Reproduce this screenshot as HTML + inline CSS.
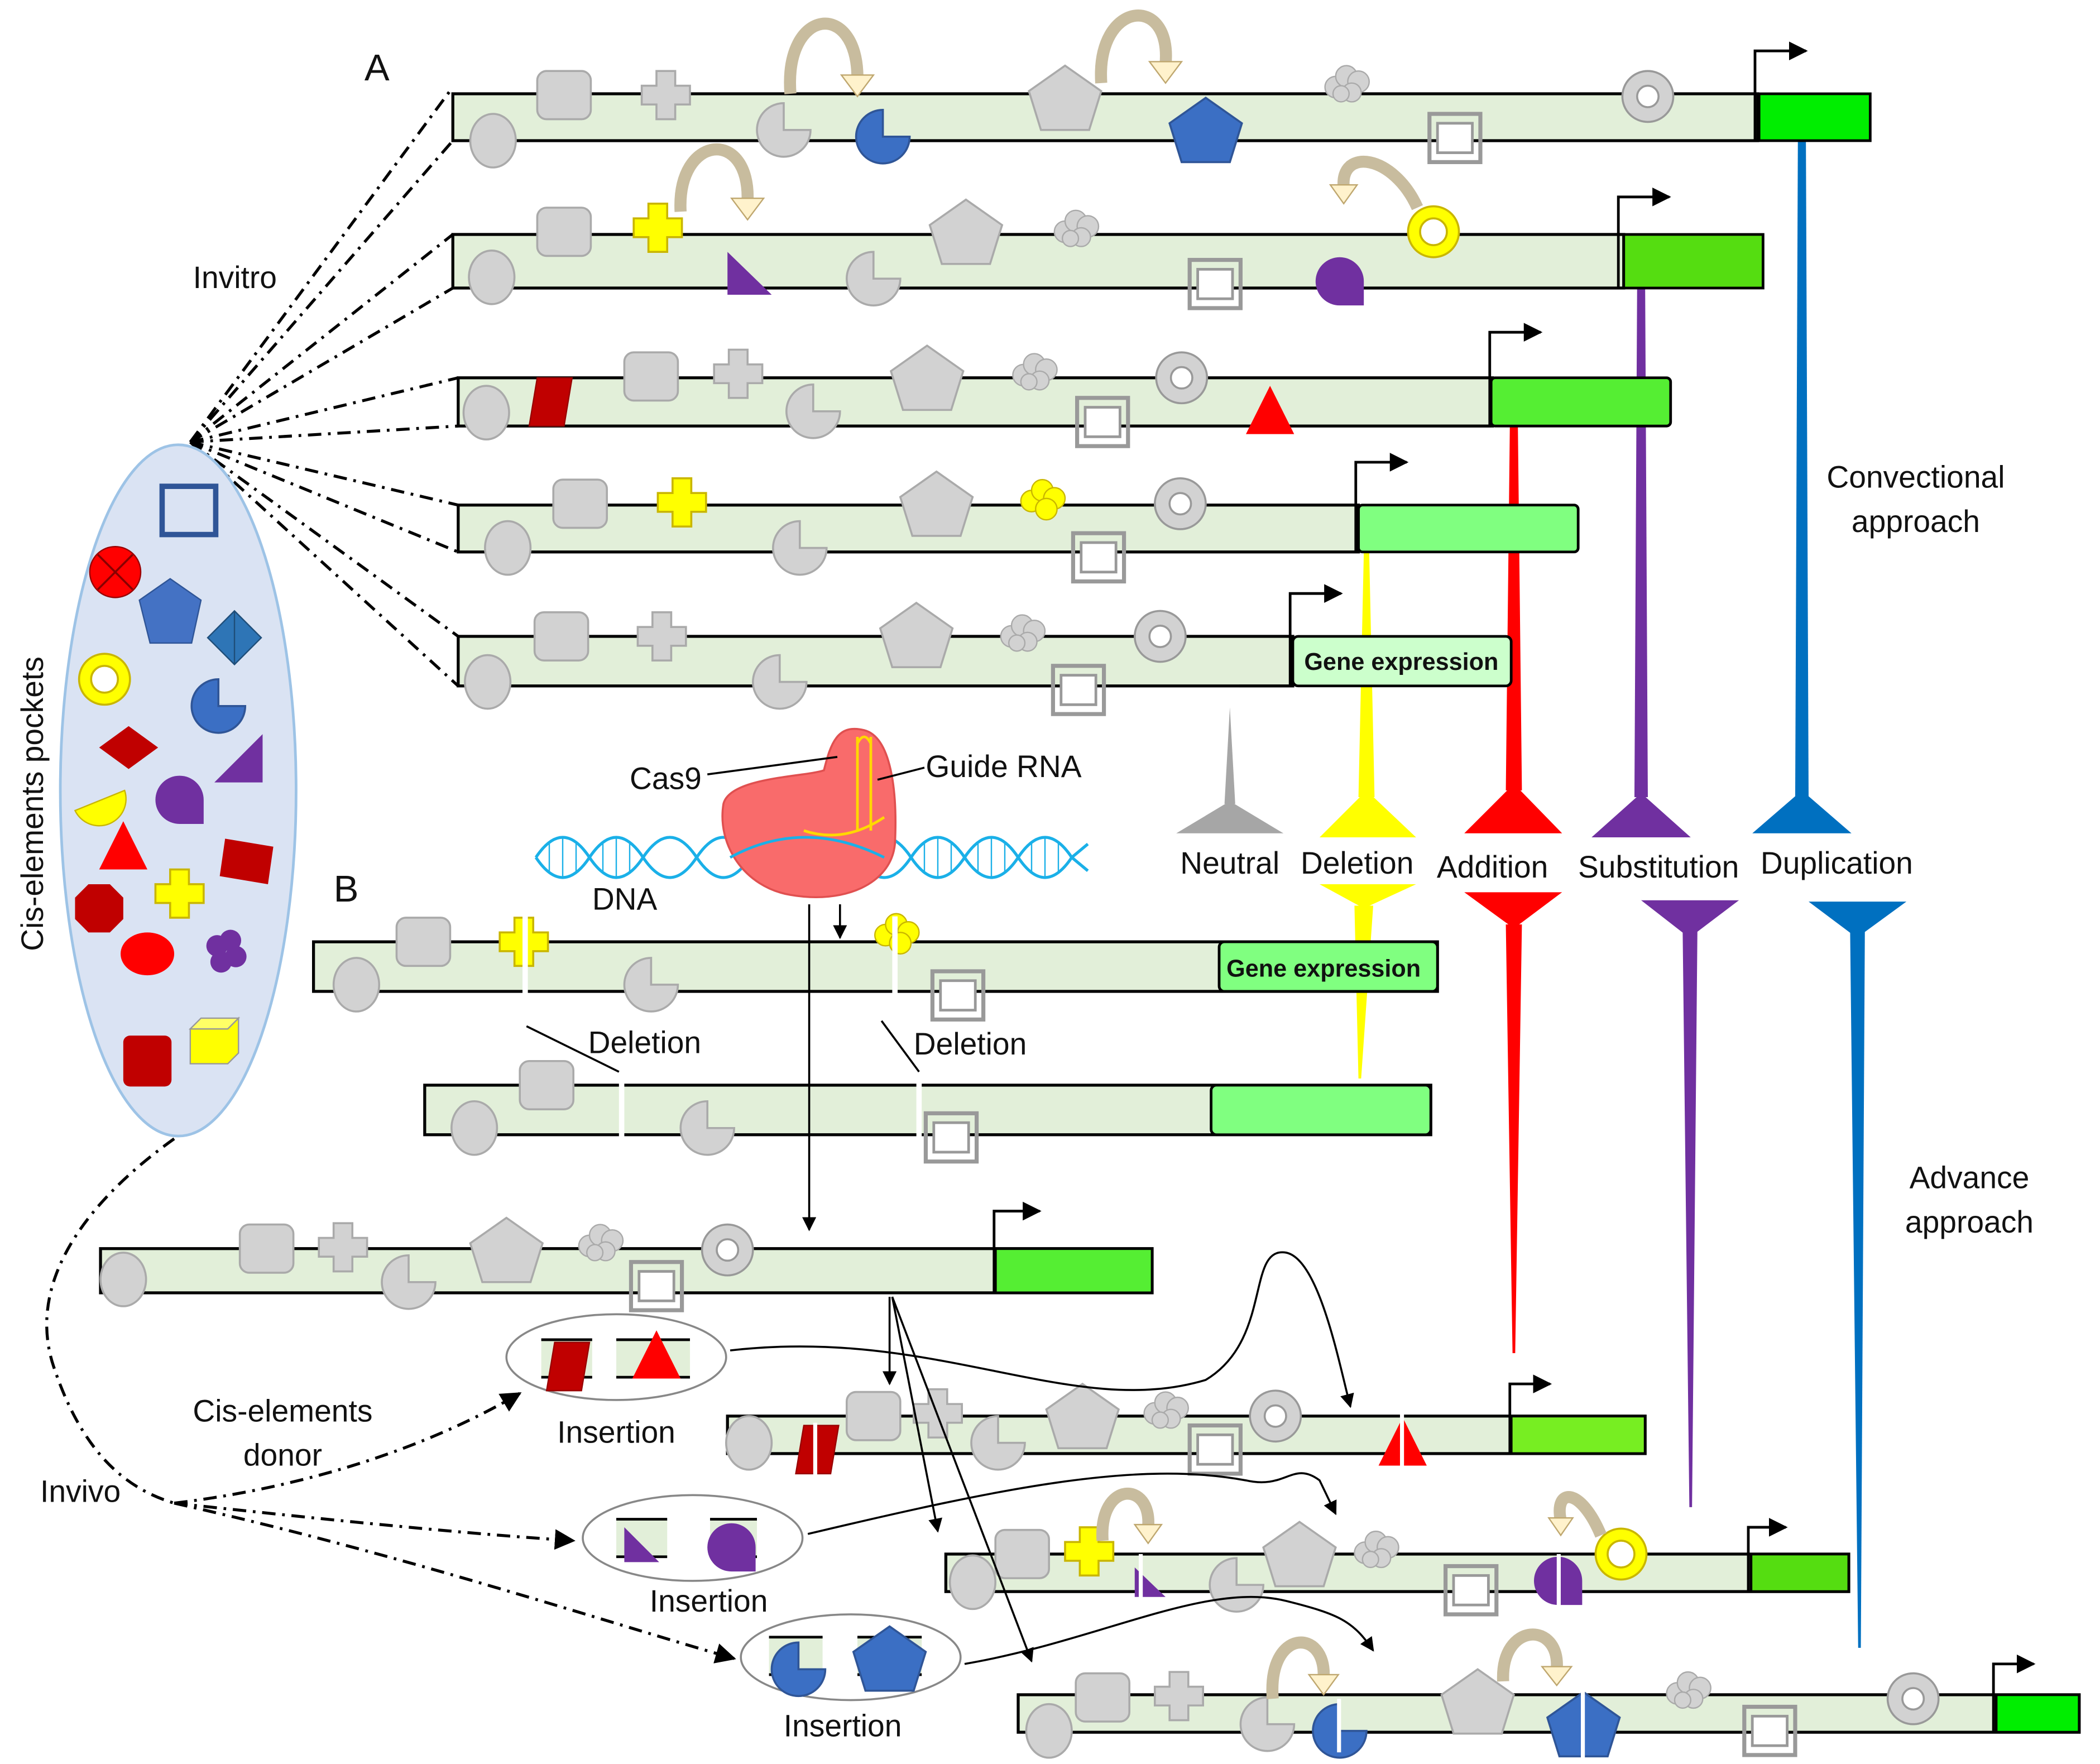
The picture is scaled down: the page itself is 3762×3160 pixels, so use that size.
<!DOCTYPE html>
<html><head><meta charset="utf-8"><style>
html,body{margin:0;padding:0;background:#fff;}
svg{display:block;}
text{font-family:"Liberation Sans",sans-serif;fill:#111;}
</style></head><body>
<svg width="3762" height="3160" viewBox="0 0 1567.5 1316.7" xmlns="http://www.w3.org/2000/svg">
<defs>
<rect id="rr" x="-20" y="-18" width="40" height="36" rx="7" fill="#d2d2d2" stroke="#aaa" stroke-width="1.5"/>
<path id="cr" d="M-7,-18h14v11h11v14h-11v11h-14v-11h-11v-14h11z" fill="#d2d2d2" stroke="#aaa" stroke-width="1.5"/>
<polygon id="pent" points="0,-24 27,-5 18,24 -18,24 -27,-5" fill="#d2d2d2" stroke="#aaa" stroke-width="1.5"/>
<g id="cloud" fill="#d2d2d2" stroke="#aaa" stroke-width="1"><circle cx="-8" cy="2" r="8"/><circle cx="0" cy="-6" r="8"/><circle cx="9" cy="-2" r="8"/><circle cx="4" cy="6" r="7"/><circle cx="-4" cy="7" r="6"/></g>
<g id="ring"><circle r="19" fill="#d2d2d2" stroke="#999" stroke-width="1.5"/><circle r="8" fill="#fff" stroke="#999" stroke-width="1.5"/></g>
<g id="sq"><rect x="-19" y="-18" width="38" height="36" fill="none" stroke="#999" stroke-width="3"/><rect x="-13" y="-11" width="26" height="22" fill="#fff" stroke="#999" stroke-width="2"/></g>
<path id="pac" d="M0,0 L20,0 A20,20 0 1 1 0,-20 Z" fill="#d2d2d2" stroke="#aaa" stroke-width="1.5"/>
<ellipse id="el" rx="17" ry="20" fill="#d2d2d2" stroke="#aaa" stroke-width="1.5"/>
<path id="bpac" d="M0,0 L20,0 A20,20 0 1 1 0,-20 Z" fill="#3b6fc4" stroke="#2f5597" stroke-width="1.5"/>
<polygon id="bpent" points="0,-24 27,-5 18,24 -18,24 -27,-5" fill="#3b6fc4" stroke="#2f5597" stroke-width="1.5"/>
<path id="ycr" d="M-7,-18h14v11h11v14h-11v11h-14v-11h-11v-14h11z" fill="#ffff00" stroke="#c9b600" stroke-width="1.5"/>
<g id="yring"><circle r="19" fill="#ffff00" stroke="#c9b600" stroke-width="1.5"/><circle r="10" fill="#fff" stroke="#c9b600" stroke-width="1.5"/></g>
<path id="pdrop" d="M-18,0 A18,18 0 1 1 18,0 L18,18 L0,18 A18,18 0 0 1 -18,0Z" fill="#7030a0"/>
<polygon id="ptri" points="-16,16 16,16 -16,-16" fill="#7030a0"/>
<polygon id="rpar" points="-10,-18 16,-18 10,18 -16,18" fill="#c00000" stroke="#900" stroke-width="1"/>
<polygon id="rtri" points="0,-20 18,16 -18,16" fill="#ff0000"/>
<marker id="ah" viewBox="0 0 10 10" refX="9" refY="5" markerWidth="7" markerHeight="7" orient="auto"><path d="M0,0L10,5L0,10z" fill="#000"/></marker>
</defs>

<!-- wedges (behind strands) -->
<polygon points="1342,105 1348,105 1350,595 1340,595" fill="#0070c0"/>
<polygon points="1345,590 1382,622 1308,622" fill="#0070c0"/>
<polygon points="1350,673 1423,673 1386,700" fill="#0070c0"/>
<polygon points="1381,695 1392,695 1389,1230 1387,1230" fill="#0070c0"/>
<polygon points="1222,215 1228,215 1230,595 1220,595" fill="#7030a0"/>
<polygon points="1225,592 1262,625 1188,625" fill="#7030a0"/>
<polygon points="1225,672 1298,672 1261,700" fill="#7030a0"/>
<polygon points="1256,695 1267,695 1263,1125 1261,1125" fill="#7030a0"/>
<polygon points="1127,318 1133,318 1136,590 1124,590" fill="#ff0000"/>
<polygon points="1130,585 1166,622 1093,622" fill="#ff0000"/>
<polygon points="1093,666 1166,666 1130,693" fill="#ff0000"/>
<polygon points="1124,690 1136,690 1131,1010 1129,1010" fill="#ff0000"/>
<polygon points="1018,412 1022,412 1026,595 1014,595" fill="#ffff00"/>
<polygon points="1020,590 1057,625 985,625" fill="#ffff00"/>
<polygon points="985,660 1057,660 1018,678" fill="#ffff00"/>
<polygon points="1011,676 1025,676 1016,805 1014,805" fill="#ffff00"/>
<polygon points="918,528 922,600 914,600" fill="#a6a6a6"/>
<polygon points="918,598 958,622 878,622" fill="#a6a6a6"/>

<!-- connector dash-dot lines -->
<g stroke="#000" stroke-width="2.2" fill="none" stroke-dasharray="10,5,2,5">
<path d="M142,330 L338,65"/><path d="M142,330 L338,105"/>
<path d="M142,330 L338,175"/><path d="M142,330 L338,215"/>
<path d="M142,330 L342,282"/><path d="M142,330 L342,318"/>
<path d="M142,330 L342,377"/><path d="M142,330 L342,412"/>
<path d="M142,330 L342,475"/><path d="M142,330 L342,512"/>
<path d="M130,850 C60,900 20,960 40,1020 C60,1080 90,1110 130,1122"/>
<path d="M130,1122 C230,1110 320,1080 388,1040" marker-end="url(#ah)"/>
<path d="M130,1122 C250,1135 350,1145 428,1150" marker-end="url(#ah)"/>
<path d="M130,1122 C300,1160 450,1210 548,1238" marker-end="url(#ah)"/>
</g>

<!-- pocket -->
<ellipse cx="133" cy="590" rx="88" ry="258" fill="#dae3f3" stroke="#9dc3e6" stroke-width="2"/>
<rect x="121" y="363" width="40" height="36" fill="none" stroke="#2f5597" stroke-width="4"/>
<circle cx="86" cy="427" r="19" fill="#ff0000" stroke="#900"/><path d="M73,414L99,440M99,414L73,440" stroke="#800" stroke-width="1.5"/>
<polygon points="127,432 150,448 143,480 112,480 104,448" fill="#4472c4" stroke="#2f5597"/>
<polygon points="175,456 195,476 175,496 155,476" fill="#2e75b6" stroke="#1f4e79"/><line x1="175" y1="456" x2="175" y2="496" stroke="#1f4e79"/>
<use href="#yring" x="78" y="507"/>
<use href="#bpac" x="163" y="527"/>
<polygon points="96,542 118,558 96,574 74,558" fill="#c00000"/>
<polygon points="196,548 196,584 160,584" fill="#7030a0"/>
<path d="M56,605 A20,20 0 0 0 93,590 Z" fill="#ffff00" stroke="#c9b600"/>
<use href="#pdrop" x="134" y="597"/>
<use href="#rtri" x="92" y="633"/>
<polygon points="168,626 204,632 200,660 164,654" fill="#c00000"/>
<use href="#ycr" x="134" y="667"/>
<polygon points="66,660 82,660 92,670 92,686 82,696 66,696 56,686 56,670" fill="#c00000"/>
<ellipse cx="110" cy="712" rx="20" ry="16" fill="#ff0000"/>
<g fill="#7030a0"><circle cx="162" cy="706" r="8"/><circle cx="172" cy="702" r="8"/><circle cx="176" cy="714" r="8"/><circle cx="165" cy="718" r="8"/></g>
<rect x="92" y="773" width="36" height="38" rx="5" fill="#c00000"/>
<polygon points="142,768 170,768 178,760 178,786 170,794 142,794" fill="#ffff00" stroke="#999"/><polygon points="142,768 150,760 178,760 170,768" fill="#ffff66" stroke="#999"/>

<!-- strands -->
<g stroke="#000" stroke-width="2.2" fill="#e2efd9">
<rect x="338" y="70" width="974" height="35"/>
<rect x="338" y="175" width="874" height="40"/>
<rect x="342" y="282" width="772" height="36"/>
<rect x="342" y="377" width="672" height="35"/>
<rect x="342" y="475" width="623" height="37"/>
<rect x="234" y="703" width="839" height="37"/>
<rect x="317" y="810" width="751" height="37"/>
<rect x="75" y="932" width="785" height="33"/>
<rect x="543" y="1057" width="685" height="28"/>
<rect x="706" y="1160" width="674" height="28"/>
<rect x="760" y="1265" width="792" height="28"/>
</g>
<g stroke="#000" stroke-width="2">
<rect x="1313" y="70" width="83" height="35" fill="#00ee00"/>
<rect x="1212" y="175" width="104" height="40" fill="#55dd11"/>
<rect x="1113" y="282" width="134" height="36" fill="#55ee33" rx="3"/>
<rect x="1014" y="377" width="164" height="35" fill="#80ff80" rx="3"/>
<rect x="965" y="475" width="163" height="37" fill="#ccffcc" rx="4"/>
<rect x="910" y="703" width="163" height="37" fill="#80ff80" rx="4"/>
<rect x="904" y="810" width="164" height="37" fill="#80ff80" rx="4"/>
<rect x="743" y="932" width="117" height="33" fill="#55ee33"/>
<rect x="1128" y="1057" width="100" height="28" fill="#77ee22"/>
<rect x="1307" y="1160" width="73" height="28" fill="#55dd11"/>
<rect x="1490" y="1265" width="62" height="28" fill="#00ee00"/>
</g>
<g font-weight="bold" font-size="18">
<text x="1046" y="500" text-anchor="middle" fill="#000">Gene expression</text>
<text x="988" y="729" text-anchor="middle">Gene expression</text>
</g>

<!-- promoter arrows -->
<g stroke="#000" stroke-width="2" fill="none" marker-end="url(#ah)">
<path d="M1310,105 V38 H1348"/><path d="M1208,215 V147 H1246"/>
<path d="M1112,318 V248 H1150"/><path d="M1012,412 V345 H1050"/>
<path d="M963,512 V443 H1001"/><path d="M742,965 V904 H776"/>
<path d="M1127,1085 V1033 H1157"/><path d="M1305,1188 V1140 H1333"/>
<path d="M1488,1293 V1242 H1518"/>
</g>
<g stroke="#000" stroke-width="2"><line x1="1172" y1="215" x2="1212" y2="215"/><line x1="1075" y1="318" x2="1113" y2="318"/><line x1="925" y1="512" x2="965" y2="512"/><line x1="710" y1="965" x2="743" y2="965"/></g>

<!-- A1 -->
<use href="#el" x="368" y="105"/><use href="#rr" x="421" y="71"/><use href="#cr" x="497" y="71"/>
<use href="#pac" x="585" y="97"/><use href="#bpac" x="659" y="102"/><use href="#pent" x="795" y="73"/>
<use href="#bpent" x="900" y="97"/><use href="#cloud" x="1005" y="63"/><use href="#sq" x="1086" y="103"/><use href="#ring" x="1230" y="72"/>
<!-- A2 -->
<use href="#el" x="367" y="207"/><use href="#rr" x="421" y="173"/><use href="#ycr" x="491" y="170"/>
<polygon points="543,188 543,220 576,220" fill="#7030a0"/><use href="#pac" x="652" y="208"/><use href="#pent" x="721" y="173"/>
<use href="#cloud" x="803" y="171"/><use href="#sq" x="907" y="212"/><use href="#pdrop" x="1000" y="210"/><use href="#yring" x="1070" y="173"/>
<!-- A3 -->
<use href="#el" x="363" y="308"/><use href="#rpar" x="411" y="300"/><use href="#rr" x="486" y="281"/><use href="#cr" x="551" y="279"/>
<use href="#pac" x="607" y="307"/><use href="#pent" x="692" y="282"/><use href="#cloud" x="772" y="278"/><use href="#sq" x="823" y="315"/>
<use href="#ring" x="882" y="282"/><use href="#rtri" x="948" y="308"/>
<!-- A4 -->
<use href="#el" x="379" y="409"/><use href="#rr" x="433" y="376"/><use href="#ycr" x="509" y="375"/><use href="#pac" x="597" y="409"/>
<use href="#pent" x="699" y="376"/>
<g fill="#ffff00" stroke="#c9b600"><circle cx="770" cy="374" r="8"/><circle cx="778" cy="366" r="8"/><circle cx="787" cy="372" r="8"/><circle cx="781" cy="380" r="8"/></g>
<use href="#sq" x="820" y="416"/><use href="#ring" x="881" y="376"/>
<!-- A5 -->
<use href="#el" x="364" y="509"/><use href="#rr" x="419" y="475"/><use href="#cr" x="494" y="475"/><use href="#pac" x="582" y="509"/>
<use href="#pent" x="684" y="474"/><use href="#cloud" x="763" y="473"/><use href="#sq" x="805" y="515"/><use href="#ring" x="866" y="475"/>
<!-- B1 -->
<use href="#el" x="266" y="735"/><use href="#rr" x="316" y="703"/><use href="#ycr" x="391" y="703"/><use href="#pac" x="486" y="735"/>
<g fill="#ffff00" stroke="#c9b600"><circle cx="661" cy="698" r="8"/><circle cx="669" cy="690" r="8"/><circle cx="678" cy="696" r="8"/><circle cx="672" cy="704" r="8"/></g>
<use href="#sq" x="715" y="743"/>
<rect x="390" y="684" width="4" height="60" fill="#fff"/><rect x="666" y="684" width="4" height="60" fill="#fff"/>
<!-- B2 -->
<use href="#el" x="354" y="842"/><use href="#rr" x="408" y="810"/><use href="#pac" x="528" y="842"/><use href="#sq" x="710" y="849"/>
<rect x="462" y="808" width="4" height="42" fill="#fff"/><rect x="684" y="808" width="4" height="42" fill="#fff"/>
<!-- C -->
<use href="#el" x="92" y="955"/><use href="#rr" x="199" y="932"/><use href="#cr" x="256" y="931"/><use href="#pac" x="305" y="957"/>
<use href="#pent" x="378" y="933"/><use href="#cloud" x="448" y="928"/><use href="#sq" x="490" y="960"/><use href="#ring" x="543" y="933"/>
<!-- D1 -->
<use href="#el" x="559" y="1077"/><use href="#rpar" x="610" y="1082"/><rect x="607" y="1062" width="3" height="40" fill="#fff"/>
<use href="#rr" x="652" y="1057"/><use href="#cr" x="700" y="1055"/><use href="#pac" x="745" y="1077"/><use href="#pent" x="808" y="1057"/>
<use href="#cloud" x="870" y="1053"/><use href="#sq" x="907" y="1082"/><use href="#ring" x="952" y="1057"/><use href="#rtri" x="1047" y="1078"/>
<rect x="1045" y="1055" width="3" height="40" fill="#fff"/>
<!-- D2 -->
<use href="#el" x="726" y="1181"/><use href="#rr" x="763" y="1160"/><use href="#ycr" x="813" y="1158"/>
<polygon points="847,1170 847,1192 870,1192" fill="#7030a0"/><rect x="850" y="1160" width="3" height="36" fill="#fff"/>
<use href="#pac" x="923" y="1183"/><use href="#pent" x="970" y="1160"/><use href="#cloud" x="1027" y="1157"/><use href="#sq" x="1098" y="1187"/>
<use href="#pdrop" x="1163" y="1180"/><rect x="1162" y="1160" width="3" height="40" fill="#fff"/><use href="#yring" x="1210" y="1160"/>
<!-- D3 -->
<use href="#el" x="783" y="1292"/><use href="#rr" x="823" y="1267"/><use href="#cr" x="880" y="1266"/><use href="#pac" x="946" y="1287"/>
<use href="#bpac" x="1000" y="1292"/><rect x="998" y="1268" width="3" height="40" fill="#fff"/>
<use href="#pent" x="1103" y="1270"/><use href="#bpent" x="1182" y="1287"/><rect x="1180" y="1262" width="3" height="50" fill="#fff"/>
<use href="#cloud" x="1260" y="1262"/><use href="#sq" x="1321" y="1292"/><use href="#ring" x="1428" y="1268"/>

<!-- curved beige arrows -->
<g fill="none" stroke-width="9">
<path d="M590,70 C585,5 640,0 640,58" stroke="#c8bc9e"/>
<path d="M822,62 C818,0 875,-5 870,48" stroke="#c8bc9e"/>
<path d="M508,158 C505,100 560,95 558,150" stroke="#c8bc9e"/>
<path d="M1058,155 C1040,115 1000,110 1003,140" stroke="#c8bc9e"/>
<path d="M823,1150 C820,1105 860,1105 857,1140" stroke="#c8bc9e"/>
<path d="M1195,1146 C1180,1110 1160,1110 1165,1135" stroke="#c8bc9e"/>
<path d="M950,1268 C946,1215 990,1215 988,1252" stroke="#c8bc9e"/>
<path d="M1122,1255 C1120,1210 1165,1210 1162,1246" stroke="#c8bc9e"/>
</g>
<g fill="#fff2cc" stroke="#bfa76f" stroke-width="1">
<polygon points="628,56 652,56 640,72"/><polygon points="858,46 882,46 870,62"/>
<polygon points="546,148 570,148 558,164"/><polygon points="993,138 1013,138 1003,152"/>
<polygon points="847,1138 867,1138 857,1152"/><polygon points="1156,1133 1174,1133 1165,1146"/>
<polygon points="977,1250 999,1250 988,1265"/><polygon points="1151,1244 1173,1244 1162,1258"/>
</g>

<!-- Cas9 + DNA -->
<g fill="none" stroke="#1ab0e8" stroke-width="2.2">
<path d="M400,640 Q420,610 440,640 T480,640 T520,640 T560,640 T600,640 T640,640 T680,640 T720,640 T760,640 T800,640 L812,650"/>
<path d="M400,640 Q420,670 440,640 T480,640 T520,640 T560,640 T600,640 T640,640 T680,640 T720,640 T760,640 T800,640 L812,630"/>
</g>
<g stroke="#1ab0e8" stroke-width="1">
<path d="M410,628V652M420,625V655M430,628V652M450,628V652M460,625V655M470,628V652M690,628V652M700,625V655M710,628V652M730,628V652M740,625V655M750,628V652M770,628V652M780,625V655M790,628V652"/>
</g>
<path d="M540,600 C545,580 600,580 615,575 C620,555 625,540 645,545 C665,550 670,590 668,630 C665,660 630,675 590,668 C555,662 535,630 540,600Z" fill="#f96b6b" stroke="#e05050" stroke-width="1.5"/>
<path d="M640,550 V620 M650,550 V620 M640,555 Q645,545 650,555 M600,620 Q630,630 660,610" fill="none" stroke="#ffd800" stroke-width="2"/>
<path d="M545,640 Q600,610 660,640" fill="none" stroke="#1ab0e8" stroke-width="2"/>

<!-- thin lines -->
<g stroke="#000" stroke-width="1.5" fill="none">
<line x1="528" y1="578" x2="625" y2="565"/><line x1="690" y1="573" x2="655" y2="582"/>
<line x1="604" y1="675" x2="604" y2="918" marker-end="url(#ah)"/>
<line x1="627" y1="675" x2="627" y2="700" marker-end="url(#ah)"/>
<line x1="393" y1="766" x2="462" y2="800"/><line x1="658" y1="762" x2="686" y2="800"/>
<line x1="664" y1="968" x2="664" y2="1033" marker-end="url(#ah)"/>
<line x1="666" y1="968" x2="700" y2="1143" marker-end="url(#ah)"/>
<line x1="666" y1="968" x2="770" y2="1240" marker-end="url(#ah)"/>
<path d="M545,1008 C700,990 800,1060 900,1030 C950,1000 930,930 960,935 C985,940 1000,1020 1008,1050" marker-end="url(#ah)"/>
<path d="M603,1145 C750,1110 850,1090 930,1105 C960,1112 965,1090 985,1105 L997,1130" marker-end="url(#ah)"/>
<path d="M720,1242 C820,1225 900,1180 960,1195 C1000,1205 1010,1210 1025,1232" marker-end="url(#ah)"/>
</g>

<!-- insertion ovals -->
<g fill="#fff" stroke="#888" stroke-width="1.5">
<ellipse cx="460" cy="1013" rx="82" ry="32"/><ellipse cx="517" cy="1148" rx="82" ry="32"/><ellipse cx="635" cy="1237" rx="82" ry="32"/>
</g>
<g fill="#e2efd9"><rect x="404" y="1000" width="38" height="28"/><rect x="460" y="1000" width="55" height="28"/>
<rect x="460" y="1134" width="38" height="28"/><rect x="530" y="1134" width="35" height="28"/>
<rect x="574" y="1222" width="40" height="28"/><rect x="640" y="1222" width="48" height="28"/></g>
<g stroke="#000" stroke-width="2"><path d="M404,1000h38M404,1028h38M460,1000h55M460,1028h55M460,1134h38M460,1162h38M530,1134h35M530,1162h35M574,1222h40M574,1250h40M640,1222h48M640,1250h48"/></g>
<use href="#rpar" x="424" y="1020"/><use href="#rtri" x="490" y="1013"/>
<polygon points="466,1140 466,1166 492,1166" fill="#7030a0"/><use href="#pdrop" x="546" y="1155"/>
<use href="#bpac" x="596" y="1246"/><use href="#bpent" x="664" y="1238"/>

<!-- labels -->
<g font-size="23">
<text x="272" y="60" font-size="28">A</text>
<text x="249" y="673" font-size="28">B</text>
<text x="144" y="215">Invitro</text>
<text x="30" y="1121">Invivo</text>
<text transform="translate(32,600) rotate(-90)" text-anchor="middle">Cis-elements pockets</text>
<text x="211" y="1061" text-anchor="middle">Cis-elements</text>
<text x="211" y="1094" text-anchor="middle">donor</text>
<text x="460" y="1077" text-anchor="middle">Insertion</text>
<text x="529" y="1203" text-anchor="middle">Insertion</text>
<text x="629" y="1296" text-anchor="middle">Insertion</text>
<text x="470" y="589">Cas9</text>
<text x="691" y="580">Guide RNA</text>
<text x="442" y="679">DNA</text>
<text x="439" y="786">Deletion</text>
<text x="682" y="787">Deletion</text>
<text x="918" y="652" text-anchor="middle">Neutral</text>
<text x="1013" y="652" text-anchor="middle">Deletion</text>
<text x="1114" y="655" text-anchor="middle">Addition</text>
<text x="1238" y="655" text-anchor="middle">Substitution</text>
<text x="1371" y="652" text-anchor="middle">Duplication</text>
<text x="1430" y="364" text-anchor="middle">Convectional</text>
<text x="1430" y="397" text-anchor="middle">approach</text>
<text x="1470" y="887" text-anchor="middle">Advance</text>
<text x="1470" y="920" text-anchor="middle">approach</text>
</g>
</svg>
</body></html>
